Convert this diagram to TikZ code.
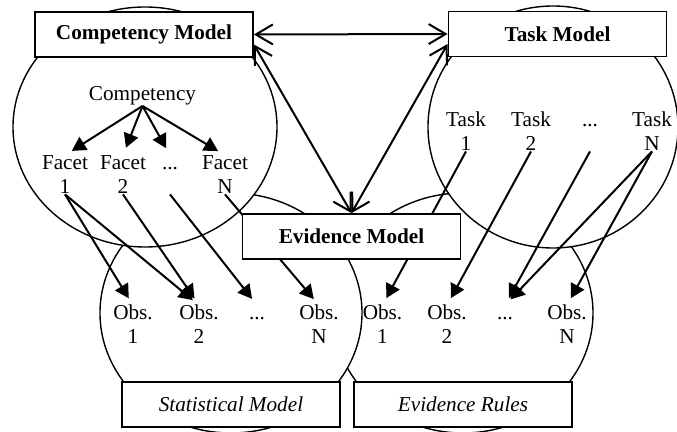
\documentclass[tikz,border=0pt]{standalone}
\usepackage{fontspec}
\setmainfont{Liberation Serif}
\usetikzlibrary{positioning, arrows.meta, backgrounds}
\newcommand{\lblfont}{\fontsize{10.6pt}{12pt}\selectfont}

\begin{document}
\begin{tikzpicture}[x=0.5pt, y=-0.5pt, every node/.style={font=\lblfont},
  zone/.style={draw, fill=white, line width=0.7pt},
  mbox/.style={draw, fill=white, line width=0.9pt, minimum width=109pt,
    minimum height=22.5pt, inner sep=0pt, font=\lblfont\bfseries},
  sbox/.style={mbox, font=\lblfont\itshape},
  lab/.style={align=center, inner sep=0pt, text height=19.2pt,
    text depth=0pt, anchor=base},
  gap/.style={inner sep=0pt, text height=7.2pt, text depth=12pt, anchor=base},
  fwd/.style={-{Triangle[length=7pt, width=7.5pt]}, line width=1pt,
    shorten >=4pt},
  link/.style={{Straight Barb[length=8.5pt, width=10pt]}-{Straight Barb[length=8.5pt, width=10pt]},
    line width=1pt}
]
  \useasboundingbox (0,0) rectangle (677,432);

  % circles, back to front
  \begin{scope}[on background layer]
    \draw[zone] (463,313) ellipse [x radius=130, y radius=120];
    \draw[zone] (231,313) ellipse [x radius=131, y radius=120];
    \draw[zone] (145,127) ellipse [x radius=132, y radius=120];
    \draw[zone] (553,127) ellipse [x radius=125, y radius=121];
  \end{scope}

  % model boxes
  \node[mbox] (cm) at (144,34.5) {Competency Model};
  \node[mbox] (tm) at (557.5,34) {Task Model};
  \node[mbox] (em) at (351.5,236.5) {Evidence Model};
  \node[sbox] (sm) at (231,404.5) {Statistical Model};
  \node[sbox] (er) at (463,404.5) {Evidence Rules};

  % competency side
  \node[inner sep=0pt, anchor=base] (comp) at (142.5,101) {Competency};
  \node[lab] (f1) at (65,194) {Facet\\1};
  \node[lab] (f2) at (123,194) {Facet\\2};
  \node[gap] (fd) at (170,170) {...};
  \node[lab] (fn) at (225,194) {Facet\\N};

  % task side
  \node[lab] (t1) at (466,151) {Task\\1};
  \node[lab] (t2) at (531,151) {Task\\2};
  \node[gap] (td) at (590,127) {...};
  \node[lab] (tn) at (652,151) {Task\\N};

  % observables
  \node[lab] (s1) at (133,344) {Obs.\\1};
  \node[lab] (s2) at (199,344) {Obs.\\2};
  \node[gap] (sd) at (257,320) {...};
  \node[lab] (sn) at (319,344) {Obs.\\N};
  \node[lab] (r1) at (382.5,344) {Obs.\\1};
  \node[lab] (r2) at (447,344) {Obs.\\2};
  \node[gap] (rd) at (505,320) {...};
  \node[lab] (rn) at (567,344) {Obs.\\N};

  % arrows
  \begin{scope}[on background layer]
    \draw[fwd] (comp.south) -- (f1.north);
    \draw[fwd] (comp.south) -- (f2.north);
    \draw[fwd] (comp.south) -- (fd.north);
    \draw[fwd] (comp.south) -- (fn.north);

    \draw[fwd] (f1.south) -- (s1.north);
    \draw[fwd] (f1.south) -- (s2.north);
    \draw[fwd] (f2.south) -- (s2.north);
    \draw[fwd] (fd.south) -- (sd.north);
    \draw[fwd] (fn.south) -- (sn.north);

    \draw[fwd] (t1.south) -- (r1.north);
    \draw[fwd] (t2.south) -- (r2.north);
    \draw[fwd] (td.south) -- (rd.north);
    \draw[fwd] (tn.south) -- (rd.north);
    \draw[fwd] (tn.south) -- (rn.north);

    \draw[link] (cm.east) -- (tm.west);
    \draw[link] ([yshift=-5pt]cm.east) -- (em.north);
    \draw[link] ([yshift=-5pt]tm.west) -- (em.north);
  \end{scope}
\end{tikzpicture}
\end{document}
